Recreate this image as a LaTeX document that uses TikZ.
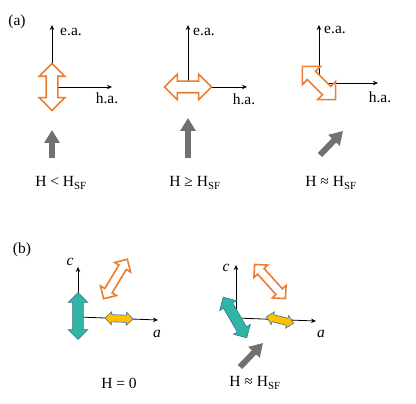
\documentclass[tikz,border=0pt]{standalone}
\usepackage{fontspec}
\setmainfont{Liberation Serif}
\usetikzlibrary{positioning}
\usetikzlibrary{arrows.meta}
\usetikzlibrary{shapes.arrows}
\definecolor{spinorange}{HTML}{ED7D31}
\definecolor{spinteal}{HTML}{30B5A5}
\definecolor{spinyellow}{HTML}{FFC000}
\definecolor{spinedge}{HTML}{41719C}
\definecolor{fieldgray}{HTML}{747070}

\begin{document}
\begin{tikzpicture}[x=1pt, y=-1pt,
        every node/.style={font=\fontsize{15.5}{18}\selectfont, inner sep=0pt},
        axis/.style={draw, line width=0.8pt, -{Stealth[length=5pt,width=4.5pt]}},
        hollow/.style={double arrow, draw=spinorange, fill=white, line width=1.6pt,
                       inner ysep=5pt, double arrow head extend=7pt, minimum height=47pt},
        hollowsmall/.style={hollow, inner ysep=3.5pt, double arrow head extend=5pt, minimum height=46pt},
        tealspin/.style={double arrow, draw=spinedge, fill=spinteal, line width=0.6pt,
                         inner ysep=5pt, double arrow head extend=4.5pt, minimum height=47pt},
        yellowspin/.style={double arrow, draw=spinedge, fill=spinyellow, line width=0.6pt,
                           inner ysep=3.3pt, double arrow head extend=3pt, minimum height=28pt},
        field/.style={draw=fieldgray, line width=6pt, -{Triangle[length=13pt,width=15pt]}}]
    \useasboundingbox (0,0) rectangle (416,404);

    % (a) easy axis / hard axis
    \node (lbla) at (17,22) {(a)};

    \coordinate (o1) at (52,87);
    \draw[axis] (o1) -- (52,25) coordinate (ea1);
    \draw[axis] (o1) -- (112,87) coordinate (ha1);
    \node (ea1txt) at (71,32) {e.a.};
    \node (ha1txt) at (107,98) {h.a.};
    \node[hollow, rotate=90] (m1) at (o1) {};
    \coordinate (f1a) at (52,158);
    \coordinate (f1b) at (52,130);
    \draw[field] (f1a) -- (f1b);
    \node (h1) at (61,183) {H < H\textsubscript{SF}};

    \coordinate (o2) at (188,87);
    \draw[axis] (o2) -- (188,25) coordinate (ea2);
    \draw[axis] (o2) -- (247,87) coordinate (ha2);
    \node (ea2txt) at (204,32) {e.a.};
    \node (ha2txt) at (244,99) {h.a.};
    \node[hollow] (m2) at (o2) {};
    \coordinate (f2a) at (188,158);
    \coordinate (f2b) at (188,118);
    \draw[field] (f2a) -- (f2b);
    \node (h2) at (195,183) {H ≥ H\textsubscript{SF}};

    \coordinate (o3) at (319,83);
    \draw[axis] (o3) -- (319,25) coordinate (ea3);
    \draw[axis] (o3) -- (378,83) coordinate (ha3);
    \node (ea3txt) at (335,30) {e.a.};
    \node (ha3txt) at (380,97) {h.a.};
    \node[hollow, rotate=-45] (m3) at (o3) {};
    \coordinate (f3a) at (320,155);
    \coordinate (f3b) at (343,131);
    \draw[field] (f3a) -- (f3b);
    \node (h3) at (331,183) {H ≈ H\textsubscript{SF}};

    % (b) sublattices in the a-c plane
    \node (lblb) at (22,250) {(b)};

    \coordinate (o4) at (78,317);
    \draw[axis] (o4) -- (78,267) coordinate (c4);
    \draw[axis] (o4) -- (158,320) coordinate (a4);
    \node (c4txt) at (70,262) {\textit{c}};
    \node (a4txt) at (157,334) {\textit{a}};
    \node[hollowsmall, rotate=59] (n4) at (115.5,279) {};
    \node[tealspin, rotate=90] (t4) at (78,316) {};
    \node[yellowspin, rotate=-2] (y4) at (119,318.5) {};
    \node (h4) at (119,383) {H = 0};

    \coordinate (o5) at (236,318);
    \draw[axis] (o5) -- (236,265) coordinate (c5);
    \draw[axis] (o5) -- (316,321) coordinate (a5);
    \node (c5txt) at (226,268) {\textit{c}};
    \node (a5txt) at (321,334) {\textit{a}};
    \node[hollowsmall, rotate=-48] (n5) at (270,281.5) {};
    \node[tealspin, rotate=120] (t5) at (235,317.5) {};
    \node[yellowspin, rotate=-14] (y5) at (280,320) {};
    \coordinate (f5a) at (240,367);
    \coordinate (f5b) at (263,343);
    \draw[field] (f5a) -- (f5b);
    \node (h5) at (255,383) {H ≈ H\textsubscript{SF}};
\end{tikzpicture}
\end{document}
